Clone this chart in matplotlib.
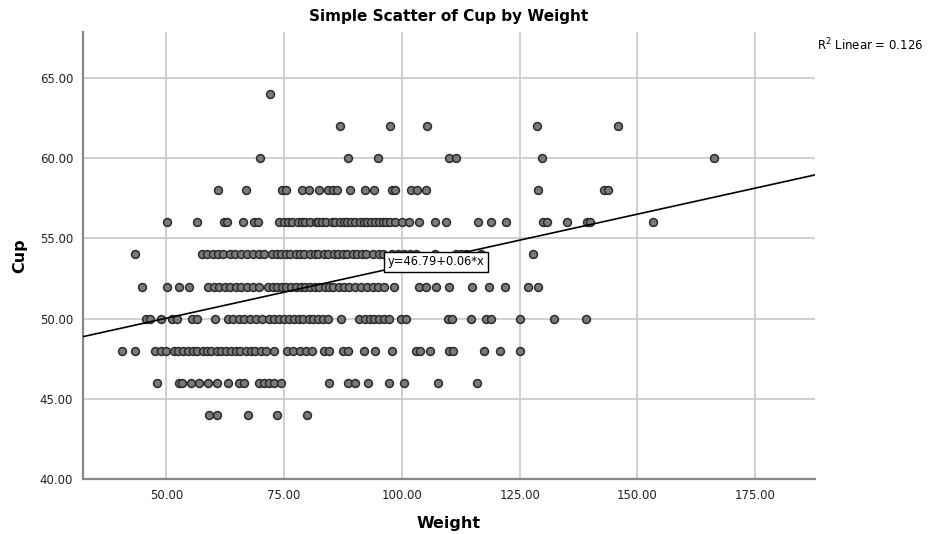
import matplotlib
matplotlib.use("Agg")
import matplotlib.pyplot as plt
import numpy as np

# Weight values observed at each Cup level
cup_64 = [72.0]
cup_62 = [86.8, 97.5, 105.4, 128.7, 145.8]
cup_60 = [69.9, 88.5, 94.9, 110.0, 111.5, 129.7, 166.3]
cup_58 = [60.9, 67.0, 74.5, 75.4, 78.7, 80.3, 82.5, 84.4, 85.4, 86.3, 88.9,
          92.2, 94.0, 97.9, 98.6, 101.9, 103.2, 105.1, 129.0, 142.9, 143.7]
cup_56 = [50.2, 56.6, 62.3, 62.8, 66.2, 68.6, 69.5,
          74.0, 74.9, 75.8, 76.6, 77.9, 78.8, 79.5, 80.6, 81.7, 82.3, 83.1,
          84.0, 85.2, 85.9, 86.8, 87.7, 88.4, 89.3, 90.1, 91.2, 91.9, 92.6,
          93.4, 94.3, 95.1, 96.0, 96.7, 97.5, 98.6,
          100.0, 101.6, 103.6, 107.0, 109.4, 116.2, 119.0, 122.2,
          130.0, 130.9, 135.0, 139.2, 139.9, 153.4]
cup_54 = [43.4,
          57.6, 58.7, 59.9, 61.0, 62.1, 63.5, 64.6, 65.8, 67.1, 68.4, 69.6, 70.8,
          72.5, 73.4, 74.4, 75.3, 76.2, 77.5, 78.3, 79.2, 80.4, 81.5, 82.2,
          83.4, 84.3, 85.6, 86.4, 87.5, 88.3, 89.6, 90.4, 91.5, 92.4, 93.9,
          95.2, 96.0, 98.0, 99.2, 100.5, 101.8, 103.0,
          107.0, 111.6, 112.6, 113.7, 116.9, 127.9]
cup_52 = [44.9, 50.2, 52.6, 54.8,
          58.9, 60.1, 61.2, 62.4, 63.6, 64.8, 65.9, 67.2, 68.4, 69.7,
          71.5, 72.6, 73.5, 74.6, 75.5, 76.4, 77.6, 78.5, 79.4, 80.6,
          81.5, 82.4, 83.6, 84.5, 85.4, 86.6, 87.7, 88.8,
          90.1, 91.3, 92.5, 93.8, 95.0, 96.3, 98.4,
          103.7, 105.1, 107.3, 110.0, 114.9, 118.6, 122.0, 126.8, 128.9]
cup_50 = [45.6, 46.6, 48.9, 51.3, 52.3, 55.5, 56.6, 60.3,
          63.0, 64.1, 65.4, 66.5, 67.8, 69.1, 70.4,
          71.8, 72.9, 73.9, 74.9, 76.0, 77.1, 78.2, 79.1, 80.2, 81.2, 82.2,
          83.2, 84.4, 87.1, 91.0, 92.2, 93.2, 94.1, 95.2, 96.3, 97.3,
          99.8, 100.9, 109.7, 110.7, 114.7, 117.9, 119.0, 125.0, 132.4, 139.1]
cup_48 = [40.6, 43.3, 47.7, 48.9, 49.9,
          51.6, 52.5, 53.6, 54.5, 55.6, 56.5, 57.7, 58.6, 59.5, 60.7,
          61.7, 62.6, 63.7, 64.8, 65.7, 66.9, 67.9, 68.9, 70.0, 71.1,
          72.9, 75.7, 76.9, 78.3, 79.6, 81.0, 83.5, 84.6, 87.4, 88.5,
          92.0, 94.2, 97.9, 103.0, 103.9, 106.0, 110.0, 110.8, 117.5,
          120.9, 125.1]
cup_46 = [48.1, 52.7, 53.4, 55.2, 56.9, 58.9, 60.8, 63.1, 65.4, 66.5,
          69.7, 70.8, 71.8, 72.9, 74.3, 84.6, 88.5, 90.1, 92.9, 97.3,
          100.5, 107.6, 115.9]
cup_44 = [59.0, 60.7, 67.4, 73.4, 79.9]

cup_levels = [64, 62, 60, 58, 56, 54, 52, 50, 48, 46, 44]
weight_groups = [cup_64, cup_62, cup_60, cup_58, cup_56, cup_54,
                 cup_52, cup_50, cup_48, cup_46, cup_44]

# Linear fit line
fit_intercept = 46.79
fit_slope = 0.0648
r_squared = 0.126

x_ticks = [50, 75, 100, 125, 150, 175]
y_ticks = [40, 45, 50, 55, 60, 65]

weight = np.concatenate([np.asarray(g, float) for g in weight_groups])
cup = np.concatenate([np.full(len(g), lvl, float)
                      for lvl, g in zip(cup_levels, weight_groups)])

plt.rcParams["font.family"] = ["DejaVu Sans"]

fig = plt.figure(figsize=(9.30, 5.34), dpi=100)
ax = fig.add_axes([0.0892, 0.1024, 0.7871, 0.8376])

xmin, xmax = 32.3, 187.7
ymin, ymax = 40.0, 67.85
ax.set_xlim(xmin, xmax)
ax.set_ylim(ymin, ymax)

ax.set_xticks(x_ticks)
ax.set_yticks(y_ticks)
ax.set_xticklabels([f"{v:.2f}" for v in x_ticks], fontsize=8.5, color="#222222")
ax.set_yticklabels([f"{v:.2f}" for v in y_ticks], fontsize=8.5, color="#222222")
ax.tick_params(length=0, pad=7)

ax.grid(True, color="#c8c8c8", linewidth=1.2)
ax.set_axisbelow(True)
for side in ("top", "right"):
    ax.spines[side].set_visible(False)
for side in ("left", "bottom"):
    ax.spines[side].set_color("#888888")
    ax.spines[side].set_linewidth(1.6)

ax.scatter(weight, cup, s=32, facecolor="#7a7a7a", edgecolor="#2b2b2b",
           linewidth=1.1, zorder=3)

fx = np.array([xmin, xmax])
ax.plot(fx, fit_intercept + fit_slope * fx, color="black", linewidth=1.2,
        zorder=4, clip_on=True)

eq_x = 107.2
ax.text(eq_x, 53.55, f"y={fit_intercept:.2f}+{fit_slope:.2f}*x",
        fontsize=8.3, ha="center", va="center", zorder=5,
        bbox=dict(boxstyle="square,pad=0.3", facecolor="white",
                  edgecolor="black", linewidth=1.0))

ax.set_title("Simple Scatter of Cup by Weight", fontsize=11, fontweight="bold",
             pad=8)
ax.set_xlabel("Weight", fontsize=11.5, fontweight="bold", labelpad=10)
ax.set_ylabel("Cup", fontsize=11.5, fontweight="bold", labelpad=9)

fig.text(0.879, 0.915, f"R$^2$ Linear = {r_squared:.3f}", fontsize=8.5,
         ha="left", va="center")

fig.savefig("out.png", dpi=100)
